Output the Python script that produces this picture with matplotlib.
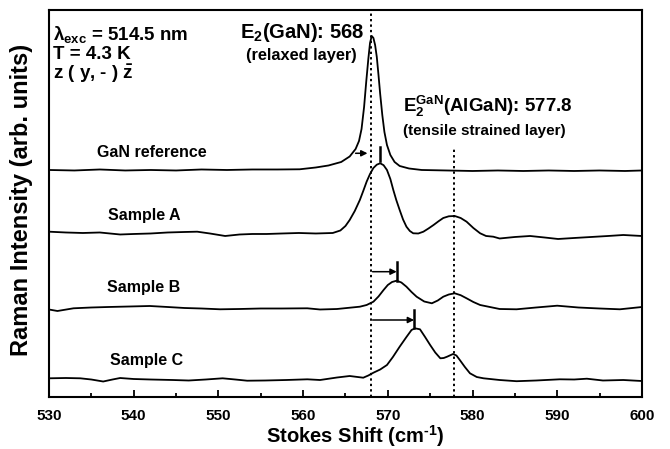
"""Raman spectra of GaN reference and AlGaN samples A-C (E2 region)."""

import matplotlib

matplotlib.use("Agg")
import matplotlib.pyplot as plt
from matplotlib.ticker import MultipleLocator, NullLocator

plt.rcParams["font.family"] = ["Liberation Sans", "DejaVu Sans"]
plt.rcParams["font.weight"] = "bold"
plt.rcParams["mathtext.fontset"] = "custom"
plt.rcParams["mathtext.rm"] = "Liberation Sans:bold"
plt.rcParams["mathtext.it"] = "Liberation Sans:bold"
plt.rcParams["mathtext.bf"] = "Liberation Sans:bold"

# spectra (x in cm-1, intensity in arb. units, traces offset)
x_ref = [530, 533, 536, 539, 542, 545, 548, 551, 554, 557, 559.6, 561.5, 563.0,
         564.5, 565.5, 566.2, 566.6, 566.9, 567.2, 567.45, 567.7, 567.9, 568.1,
         568.3, 568.5, 568.7, 568.9, 569.1, 569.35, 569.6, 569.9, 570.3, 570.8,
         571.4, 572.5, 574, 577, 580, 583, 586, 589, 592, 595, 598, 600]
y_ref = [227, 226.5, 227.5, 226.5, 227, 226.5, 227.5, 227, 227.5, 227.5, 227.7,
         229.5, 231.5, 235, 240.5, 248, 256, 268, 290, 315, 338, 354, 361, 359,
         352, 340, 322, 303, 282, 265, 252, 242, 235, 231, 228.5, 227, 226.5, 226,
         226.5, 226, 226.5, 226, 226.5, 226, 226.5]

x_a = [530, 532, 534, 536, 538.4, 540, 542, 544, 546, 547.5, 549, 550.8, 552.5,
       554, 555.7, 557.5, 559.5, 561.5, 563.5, 564.4, 565.0, 565.5, 566.1, 566.7,
       567.1, 567.5, 567.9, 568.3, 568.7, 569.1, 569.5, 569.9, 570.3, 570.65,
       571.0, 571.4, 571.8, 572.2, 572.6, 573.0, 573.6, 574.2, 574.8, 575.4, 576.0,
       576.55, 577.2, 577.9, 578.6, 579.3, 580.1, 580.9, 581.6, 582.45, 583.2, 585,
       586.8, 588.5, 590.1, 592, 594, 596, 597.8, 600]
y_a = [165.3, 164.5, 164, 164.5, 162.5, 163, 163.5, 164.5, 165, 165.3, 163.5, 161,
       162.5, 163, 163, 163.5, 164, 163.5, 164, 166.5, 171, 177, 186, 197, 206,
       215.3, 223, 229, 232.3, 233.7, 231.8, 227, 218, 207, 197, 187, 177.5, 170.3,
       166, 163.7, 163.5, 165.3, 168.5, 172, 175.8, 179, 180.7, 181, 179, 175.3,
       169, 163.7, 161, 160.3, 158.5, 160, 161, 159.5, 158, 159, 160, 161, 162,
       161]

x_b = [530, 531, 532.9, 535, 537, 539.5, 541.9, 544, 546, 548, 550.2, 552.5, 555,
       557.5, 560.5, 562, 564, 566.7, 567.5, 568.3, 568.9, 569.5, 570.0, 570.5,
       571.05, 571.6, 572.2, 572.8, 573.4, 574.3, 575.2, 575.9, 576.55, 577.2,
       577.9, 578.6, 579.3, 580.1, 580.9, 583.2, 585.2, 587.5, 590, 592.5, 595,
       597.4, 600]
y_b = [87.5, 86, 88.7, 89.5, 90, 90.5, 91, 90, 89, 88.5, 87.7, 88, 88.5, 88.5,
       88.7, 87.5, 88, 90.3, 92, 95.3, 100.5, 107, 112, 115, 116.3, 114.5, 110.3,
       105, 100.3, 95.5, 93.7, 96.5, 100.3, 102.5, 103.7, 101.8, 98.7, 95, 92,
       88, 87.7, 89.5, 91.3, 89.5, 88.5, 87.7, 90]

x_c = [530, 532, 533.7, 535, 536.4, 537.5, 538.4, 540, 542, 544.6, 546.5, 548.5,
       550.5, 552, 553.4, 555.5, 558, 560.5, 562, 564, 565.5, 567.1, 567.7, 568.3,
       569.1, 569.9, 570.6, 571.4, 572.2, 572.8, 573.2, 573.8, 574.4, 575.0,
       575.6, 576.2, 576.6, 577.0, 577.7, 578.1, 578.5, 579.1, 579.7, 580.5, 581.3,
       583.2, 585.2, 587.5, 590.3, 592, 593.5, 595.4, 597.8, 600]
y_c = [18.7, 19, 18.7, 17.5, 15.5, 17.5, 19, 18, 17.5, 17, 16.5, 17.5, 18.7, 17.5,
       16.3, 16.5, 17, 17.7, 17, 19.5, 21, 19.3, 21.5, 24.3, 27.5, 32, 40, 50.3, 60,
       67, 68.7, 67.7, 60, 52, 44.5, 38.7, 39, 40.3, 43, 41.5, 37, 30, 23.7, 20,
       18.7, 17, 15.8, 16.5, 17.7, 17.5, 18.3, 16.5, 17, 16]

spectra = [(x_ref, y_ref), (x_a, y_a), (x_b, y_b), (x_c, y_c)]
names = ["GaN reference", "Sample A", "Sample B", "Sample C"]

E2_RELAXED = 568.0
E2_STRAINED = 577.8

# peak-shift markers: arrow start, arrow end, arrow height, bar x, bar low, bar high
shifts = [(566.2, 567.6, 243.7, 569.1, 236, 250),
          (568.2, 571.05, 125.3, 571.1, 116, 135),
          (568.2, 573.1, 77, 573.1, 69, 87)]


def main():
    fig = plt.figure(figsize=(6.7, 4.49), dpi=100)
    ax = fig.add_axes([0.0731, 0.1158, 0.885, 0.862])

    for xs, ys in spectra:
        ax.plot(xs, ys, color="black", lw=1.3, solid_joinstyle="round")

    dots = (0, (1.2, 1.6))
    ax.plot([E2_RELAXED, E2_RELAXED], [0, 384], color="black", lw=1.4, ls=dots)
    ax.plot([E2_STRAINED, E2_STRAINED], [0, 250], color="black", lw=1.4, ls=dots)

    for x0, x1, ya, xb, ylo, yhi in shifts:
        ax.annotate("", xy=(x1, ya), xytext=(x0, ya),
                    arrowprops=dict(arrowstyle="-|>", color="black", lw=1.1,
                                    mutation_scale=9, shrinkA=0, shrinkB=0))
        ax.plot([xb, xb], [ylo, yhi], color="black", lw=1.8)

    # sample labels
    for name, (lx, ly) in zip(names, [(535.7, 240), (537.0, 176.5),
                                      (536.8, 104.5), (537.2, 32.5)]):
        ax.text(lx, ly, name, fontsize=11.5, fontweight="bold", va="baseline")

    # measurement conditions
    ax.text(530.5, 357, r"$\lambda_{\mathrm{exc}}$ = 514.5 nm", fontsize=13.5,
            va="baseline")
    ax.text(530.5, 338, "T = 4.3 K", fontsize=13.5, va="baseline")
    ax.text(530.5, 318, r"z ( y, - ) $\bar{z}$", fontsize=13.5, va="baseline")

    # mode assignments
    ax.text(552.6, 359, r"E$_2$(GaN): 568", fontsize=14.5, va="baseline")
    ax.text(553.3, 337, "(relaxed layer)", fontsize=11.8, va="baseline")
    ax.text(571.8, 285, r"E$_2^{\mathrm{GaN}}$(AlGaN): 577.8", fontsize=13.5,
            va="baseline")
    ax.text(571.8, 262, "(tensile strained layer)", fontsize=11, va="baseline")

    ax.set_xlim(530, 600)
    ax.set_ylim(0, 387)
    ax.xaxis.set_major_locator(MultipleLocator(10))
    ax.xaxis.set_minor_locator(MultipleLocator(5))
    ax.yaxis.set_major_locator(NullLocator())
    ax.tick_params(axis="x", which="major", direction="in", length=5, width=1.3,
                   labelsize=11, pad=8.5)
    ax.tick_params(axis="x", which="minor", direction="in", length=3, width=1.3)
    for lab in ax.get_xticklabels():
        lab.set_fontweight("bold")
    for sp in ax.spines.values():
        sp.set_linewidth(1.5)

    ax.set_xlabel(r"Stokes Shift (cm$^{\text{-}1}$)", fontsize=14.5,
                  fontweight="bold")
    ax.xaxis.set_label_coords(0.517, -0.068)
    ax.set_ylabel("Raman Intensity (arb. units)", fontsize=17, fontweight="bold")
    ax.yaxis.set_label_coords(-0.027, 0.51)

    fig.savefig("out.png", dpi=100)
    plt.close(fig)


if __name__ == "__main__":
    main()
